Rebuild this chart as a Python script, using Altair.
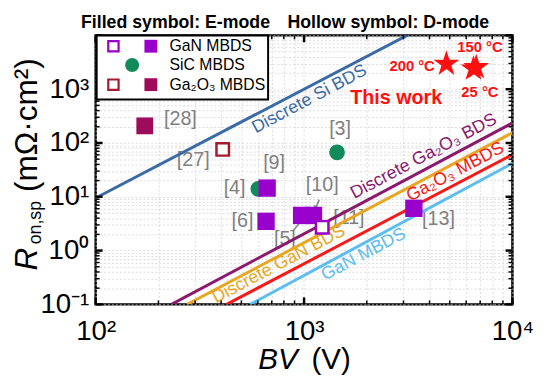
import math
import altair as alt
import pandas as pd

FONT = "Liberation Sans"
W, H = 423, 273

# ---------------- data ----------------
# reference devices
dev_ref = ["[28]", "[27]", "[3]", "[4]", "[9]", "[6]", "[5]", "[10]", "[11]", "[13]"]
dev_material = ["Ga2O3", "Ga2O3", "SiC", "SiC", "GaN", "GaN", "GaN", "GaN", "GaN", "GaN"]
dev_mode = ["E", "D", "E", "E", "E", "E", "E", "E", "D", "E"]
dev_bv = [172, 407, 1440, 603, 665, 657, 973, 1110, 1222, 3365]
dev_ron = [208, 76, 67, 14, 14.5, 3.5, 4.5, 4.5, 2.7, 6.1]
ref_label_bv = [255, 294, 1489, 464, 718, 506, 809, 1222, 1641, 4415]
ref_label_ron = [279, 47.6, 183, 14.7, 42, 3.5, 1.64, 16.6, 4.0, 3.8]

# arrows for [10] and [5]
arrow_bv_start = [1183, 883]
arrow_ron_start = [8.85, 2.30]
arrow_bv_end = [1133, 984]
arrow_ron_end = [6.07, 3.81]
arrow_head_angle = [204, 40]

# this work
tw_temp = ["200 °C", "150 °C", "25 °C"]
tw_bv = [4820, 6700, 6500]
tw_ron = [2950, 2550, 2400]
tw_label_bv = [3300, 6980, 6980]
tw_label_ron = [2710, 6030, 871]
this_work_bv = [2767]
this_work_ron = [676]

# limit lines (two end points each)
line_names = ["Discrete Si BDS", "Discrete Ga₂O₃ BDS", "Discrete GaN BDS", "Ga₂O₃ MBDS", "GaN MBDS"]
line_bv_start = [100, 231, 275, 425, 552]
line_ron_start = [9.5, 0.1, 0.1, 0.1, 0.1]
line_bv_end = [3120, 10000, 10000, 10000, 10000]
line_ron_end = [10000, 236, 155, 61, 42]
line_colors = ["#3B6BA5", "#8B1A6E", "#E8A623", "#F41A1A", "#5BBDF0"]
line_label_bv = [1062, 3750, 757, 5320, 1932]
line_label_ron = [649, 56, 0.55, 28.8, 0.84]

# axis ticks
x_major = [100, 1000, 10000]
x_minor = [m * 10 ** e for e in (2, 3) for m in range(2, 10)]
y_major = [0.1, 1, 10, 100, 1000, 10000]
y_minor = [round(m * 10.0 ** e, 6) for e in (-1, 0, 1, 2, 3) for m in range(2, 10)]
x_tick_text = [(100, "10²"), (1000, "10³"), (10000, "10⁴")]
y_tick_text = [(0.1, "10⁻¹"), (1, "10⁰"), (10, "10¹"), (100, "10²"), (1000, "10³")]

# ---------------- helpers ----------------
def sup_expr(mapping):
    parts = [f"abs(datum.value - {v}) < {v * 1e-6} ? '{s}'" for v, s in mapping]
    return " : ".join(parts) + " : ''"

xs = alt.Scale(type="log", domain=[100, 10000], nice=False)
ys = alt.Scale(type="log", domain=[0.1, 10000], nice=False)

x_axis = alt.Axis(values=x_major + x_minor, labelExpr=sup_expr(x_tick_text), grid=True,
                  gridColor="#d4d4d4", gridDash=[2, 2], gridWidth=0.8, ticks=False, domain=False,
                  labelFont=FONT, labelFontSize=28, labelColor="black", labelPadding=14,
                  labelOverlap=False, labelFlush=False, title=None)
y_axis = alt.Axis(values=y_major + y_minor, labelExpr=sup_expr(y_tick_text), grid=True,
                  gridColor="#d4d4d4", gridDash=[2, 2], gridWidth=0.8, ticks=False, domain=False,
                  labelFont=FONT, labelFontSize=28, labelColor="black", labelPadding=7,
                  labelOverlap=False, labelFlush=False, title=None)

def X(f):
    return alt.X(f, type="quantitative", scale=xs, axis=x_axis)

def Y(f):
    return alt.Y(f, type="quantitative", scale=ys, axis=y_axis)

one = pd.DataFrame({"a": [0]})

def pix_text(px, py, txt, **mk):
    return alt.Chart(one).mark_text(text=txt, **mk).encode(x=alt.value(px), y=alt.value(py))

def pix_point(px, py, **mk):
    return alt.Chart(one).mark_point(**mk).encode(x=alt.value(px), y=alt.value(py))

# ---------------- tables ----------------
lines_rows = []
for i, n in enumerate(line_names):
    lines_rows.append({"name": n, "bv": line_bv_start[i], "ron": line_ron_start[i], "o": 0})
    lines_rows.append({"name": n, "bv": line_bv_end[i], "ron": line_ron_end[i], "o": 1})
lines_df = pd.DataFrame(lines_rows)
line_lab_df = pd.DataFrame({"name": line_names, "bv": line_label_bv, "ron": line_label_ron})

dev_df = pd.DataFrame({"ref": dev_ref, "mat": dev_material, "mode": dev_mode,
                       "bv": dev_bv, "ron": dev_ron})
ref_lab_df = pd.DataFrame({"ref": dev_ref, "bv": ref_label_bv, "ron": ref_label_ron})
arrow_df = pd.DataFrame({"bv": arrow_bv_start, "ron": arrow_ron_start,
                         "bv2": arrow_bv_end, "ron2": arrow_ron_end, "ang": arrow_head_angle})
tw_df = pd.DataFrame({"t": tw_temp, "bv": tw_bv, "ron": tw_ron})
tw_lab_df = pd.DataFrame({"t": tw_temp, "bv": tw_label_bv, "ron": tw_label_ron})
this_df = pd.DataFrame({"t": ["This work"], "bv": this_work_bv, "ron": this_work_ron})

color_scale = alt.Scale(domain=line_names, range=line_colors)

# star path in a -1..1 box
pts = []
for k in range(10):
    a = math.radians(-90 + 36 * k)
    r = 1.0 if k % 2 == 0 else 0.382
    pts.append(f"{r * math.cos(a):.4f},{r * math.sin(a):.4f}")
STAR = "M" + " L".join(pts) + " Z"

# ---------------- layers ----------------
ref_labels = alt.Chart(ref_lab_df).mark_text(font=FONT, fontSize=20, color="#808080").encode(
    x=X("bv"), y=Y("ron"), text="ref:N")

base_lines = alt.Chart(lines_df).mark_line(strokeWidth=3, clip=True).encode(
    x=X("bv"), y=Y("ron"),
    color=alt.Color("name:N", scale=color_scale, legend=None),
    detail="name:N", order="o:Q")

line_labels = alt.Chart(line_lab_df).mark_text(font=FONT, fontSize=18, angle=332).encode(
    x=X("bv"), y=Y("ron"), text="name:N",
    color=alt.Color("name:N", scale=color_scale, legend=None))

arrows = alt.Chart(arrow_df).mark_rule(color="#808080", strokeWidth=1.5).encode(
    x=X("bv"), y=Y("ron"), x2="bv2", y2="ron2")
arrow_heads = alt.Chart(arrow_df).mark_point(shape="triangle-up", filled=True, size=35,
                                             color="#808080", opacity=1).encode(
    x=X("bv2"), y=Y("ron2"), angle=alt.Angle("ang:Q", scale=None))

sic = alt.Chart(dev_df).transform_filter("datum.mat == 'SiC'").mark_circle(
    size=254, color="#138A5A", opacity=1).encode(x=X("bv"), y=Y("ron"))
gan_e = alt.Chart(dev_df).transform_filter("datum.mat == 'GaN' && datum.mode == 'E'").mark_point(
    shape="square", filled=True, size=310, color="#9900CC", opacity=1).encode(x=X("bv"), y=Y("ron"))
gan_d = alt.Chart(dev_df).transform_filter("datum.mat == 'GaN' && datum.mode == 'D'").mark_point(
    shape="square", filled=True, size=160, fill="white", stroke="#9900CC", strokeWidth=2.5,
    opacity=1).encode(x=X("bv"), y=Y("ron"))
ga_e = alt.Chart(dev_df).transform_filter("datum.mat == 'Ga2O3' && datum.mode == 'E'").mark_point(
    shape="square", filled=True, size=290, color="#9E0B5A", opacity=1).encode(x=X("bv"), y=Y("ron"))
ga_d = alt.Chart(dev_df).transform_filter("datum.mat == 'Ga2O3' && datum.mode == 'D'").mark_point(
    shape="square", filled=True, size=160, fill="white", stroke="#A31D2E", strokeWidth=2.5,
    opacity=1).encode(x=X("bv"), y=Y("ron"))

stars = alt.Chart(tw_df).mark_point(shape=STAR, filled=True, size=760, color="#FF1010",
                                    opacity=1).encode(x=X("bv"), y=Y("ron"))
star_labels = alt.Chart(tw_lab_df).mark_text(font=FONT, fontSize=15, fontWeight="bold",
                                             color="#FF1010").encode(x=X("bv"), y=Y("ron"), text="t:N")
this_work = alt.Chart(this_df).mark_text(font=FONT, fontSize=20, fontWeight="bold",
                                         color="#FF1010").encode(x=X("bv"), y=Y("ron"), text="t:N")

# inward ticks (all four sides)
xmaj = pd.DataFrame({"v": x_major})
xmin = pd.DataFrame({"v": x_minor})
ymaj = pd.DataFrame({"v": y_major})
ymin = pd.DataFrame({"v": y_minor})
ticks = []
for df, ln, sw in [(xmaj, 7, 2.5), (xmin, 4, 1.5)]:
    ticks.append(alt.Chart(df).mark_rule(color="black", strokeWidth=sw).encode(
        x=X("v"), y=alt.value(H), y2=alt.value(H - ln)))
    ticks.append(alt.Chart(df).mark_rule(color="black", strokeWidth=sw).encode(
        x=X("v"), y=alt.value(0), y2=alt.value(ln)))
for df, ln, sw in [(ymaj, 7, 2.5), (ymin, 4, 1.5)]:
    ticks.append(alt.Chart(df).mark_rule(color="black", strokeWidth=sw).encode(
        y=Y("v"), x=alt.value(0), x2=alt.value(ln)))
    ticks.append(alt.Chart(df).mark_rule(color="black", strokeWidth=sw).encode(
        y=Y("v"), x=alt.value(W), x2=alt.value(W - ln)))

# legend (manual, boxed)
legend_box = alt.Chart(one).mark_rect(fill="white", stroke="black", strokeWidth=2).encode(
    x=alt.value(1), x2=alt.value(175), y=alt.value(0), y2=alt.value(65))
legend = [
    legend_box,
    pix_point(18, 11, shape="square", filled=True, fill="white", stroke="#9900CC", strokeWidth=2.2,
              size=110, opacity=1),
    pix_point(56, 11, shape="square", filled=True, color="#9900CC", size=170, opacity=1),
    pix_point(37, 30, shape="circle", filled=True, color="#138A5A", size=200, opacity=1),
    pix_point(18, 50, shape="square", filled=True, fill="white", stroke="#A31D2E", strokeWidth=2.2,
              size=110, opacity=1),
    pix_point(56, 50, shape="square", filled=True, color="#9E0B5A", size=170, opacity=1),
    pix_text(75, 11, "GaN MBDS", font=FONT, fontSize=16, align="left", baseline="middle"),
    pix_text(75, 30, "SiC MBDS", font=FONT, fontSize=16, align="left", baseline="middle"),
    pix_text(75, 50, "Ga₂O₃ MBDS", font=FONT, fontSize=16, align="left", baseline="middle"),
]

# titles
titles = [
    pix_text(81, -13, "Filled symbol: E-mode", font=FONT, fontSize=18, fontWeight="bold",
             align="center", baseline="middle"),
    pix_text(297, -13, "Hollow symbol: D-mode", font=FONT, fontSize=18, fontWeight="bold",
             align="center", baseline="middle"),
    pix_text(185, 330, "BV", font=FONT, fontSize=30, fontStyle="italic", align="center",
             baseline="middle"),
    pix_text(239, 330, "(V)", font=FONT, fontSize=30, align="center", baseline="middle"),
    pix_text(-70, 227, "R", font=FONT, fontSize=32, fontStyle="italic", angle=270,
             align="center", baseline="middle"),
    pix_text(-61, 190, "on,sp", font=FONT, fontSize=18, angle=270, align="center",
             baseline="middle"),
    pix_text(-70, 91, "(mΩ·cm²)", font=FONT, fontSize=32, angle=270, align="center",
             baseline="middle"),
]

chart = alt.layer(
    ref_labels, base_lines, line_labels,
    arrows, arrow_heads, sic, gan_e, gan_d, ga_e, ga_d,
    stars, star_labels, this_work, *ticks, *legend, *titles
).properties(
    width=W, height=H,
    autosize=alt.AutoSizeParams(type="none"),
    padding={"left": 89, "top": 25, "right": 30, "bottom": 76},
).configure_view(stroke="black", strokeWidth=2.5).configure_axis(domain=False)

chart.save("out.html", embed_options={"renderer": "svg", "actions": False})
